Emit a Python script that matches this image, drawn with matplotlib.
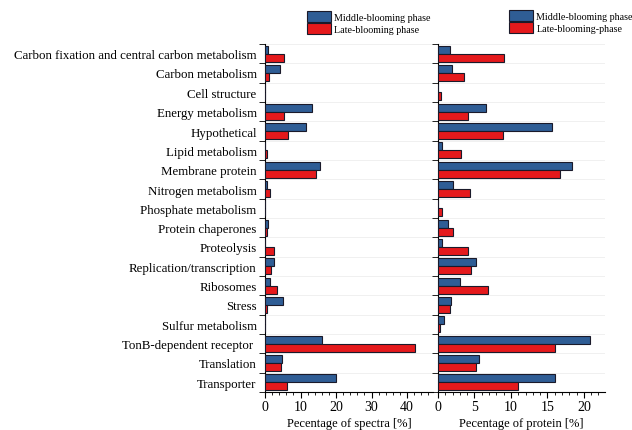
import matplotlib
matplotlib.use("Agg")
import matplotlib.pyplot as plt
import numpy as np
from matplotlib.patches import Patch
from matplotlib.ticker import MultipleLocator

categories = ["Carbon fixation and central carbon metabolism", "Carbon metabolism",
              "Cell structure", "Energy metabolism", "Hypothetical", "Lipid metabolism",
              "Membrane protein", "Nitrogen metabolism", "Phosphate metabolism",
              "Protein chaperones", "Proteolysis", "Replication/transcription",
              "Ribosomes", "Stress", "Sulfur metabolism", "TonB-dependent receptor ",
              "Translation", "Transporter"]

spectra_middle = [0.8, 4.2, 0.0, 13.1, 11.5, 0.0, 15.6, 0.5, 0.0, 0.9,
                  0.0, 2.4, 1.4, 5.2, 0.0, 16.0, 4.7, 20.0]
spectra_late = [5.4, 1.2, 0.0, 5.4, 6.4, 0.7, 14.4, 1.4, 0.0, 0.7,
                2.5, 1.6, 3.3, 0.5, 0.0, 42.3, 4.4, 6.3]

protein_middle = [1.65, 1.9, 0.0, 6.6, 15.6, 0.6, 18.4, 2.05, 0.0, 1.4,
                  0.6, 5.2, 3.05, 1.8, 0.8, 20.9, 5.6, 16.0]
protein_late = [9.1, 3.6, 0.4, 4.1, 8.9, 3.1, 16.7, 4.4, 0.5, 2.05,
                4.15, 4.5, 6.8, 1.7, 0.3, 16.0, 5.2, 11.0]

BLUE = "#2F5D95"
RED = "#E5191C"
EDGE = "#1a1a2a"

plt.rcParams["font.family"] = ["Liberation Serif", "DejaVu Serif"]

fig = plt.figure(figsize=(6.32, 4.31), dpi=100)
bottom = 1 - 393 / 431
height = (393 - 45) / 431
ax1 = fig.add_axes([265 / 632, bottom, (433 - 265) / 632, height])
ax2 = fig.add_axes([438 / 632, bottom, (605 - 438) / 632, height])

y = np.arange(len(categories))
bh = 0.41
off = 0.21

def draw(ax, mid, late, xmax, major, minor, xlabel):
    ax.barh(y - off, mid, height=bh, color=BLUE, edgecolor=EDGE, linewidth=0.8, zorder=3)
    ax.barh(y + off, late, height=bh, color=RED, edgecolor=EDGE, linewidth=0.8, zorder=3)
    ax.set_ylim(len(categories) - 0.5, -0.5)
    ax.set_xlim(0, xmax)
    for b in np.arange(-0.5, len(categories) + 0.5, 1.0):
        ax.axhline(b, color="#eeeeee", lw=0.6, zorder=0)
    ax.spines["top"].set_visible(False)
    ax.spines["right"].set_visible(False)
    ax.xaxis.set_major_locator(MultipleLocator(major))
    ax.xaxis.set_minor_locator(MultipleLocator(minor))
    ax.tick_params(axis="x", which="major", direction="out", length=4, labelsize=10, pad=2)
    ax.tick_params(axis="x", which="minor", direction="out", length=2)
    ax.set_yticks(np.arange(-0.5, len(categories) + 0.5, 1.0), minor=True)
    ax.tick_params(axis="y", which="minor", direction="out", length=4)
    ax.set_xlabel(xlabel, fontsize=9, labelpad=3)

draw(ax1, spectra_middle, spectra_late, 47.3, 10, 2, "Pecentage of spectra [%]")
draw(ax2, protein_middle, protein_late, 22.9, 5, 1, "Pecentage of protein [%]")

ax1.set_yticks(y)
ax1.set_yticklabels(categories, fontsize=9.3)
ax1.tick_params(axis="y", which="major", length=0, pad=6)
ax2.set_yticks(y)
ax2.set_yticklabels([])
ax2.tick_params(axis="y", which="major", length=0)

h1 = [Patch(facecolor=BLUE, edgecolor=EDGE, lw=0.8), Patch(facecolor=RED, edgecolor=EDGE, lw=0.8)]
fig.legend(h1, ["Middle-blooming phase", "Late-blooming phase"],
           loc="upper left", bbox_to_anchor=(307 / 632, 1 - 12 / 431), frameon=False,
           fontsize=7.2, handlelength=2.4, handleheight=1.35, labelspacing=0.1,
           handletextpad=0.35, borderpad=0, borderaxespad=0)
fig.legend(h1, ["Middle-blooming phase", "Late-blooming-phase"],
           loc="upper left", bbox_to_anchor=(509 / 632, 1 - 11 / 431), frameon=False,
           fontsize=7.2, handlelength=2.4, handleheight=1.35, labelspacing=0.1,
           handletextpad=0.35, borderpad=0, borderaxespad=0)

fig.savefig("out.png", dpi=100)
